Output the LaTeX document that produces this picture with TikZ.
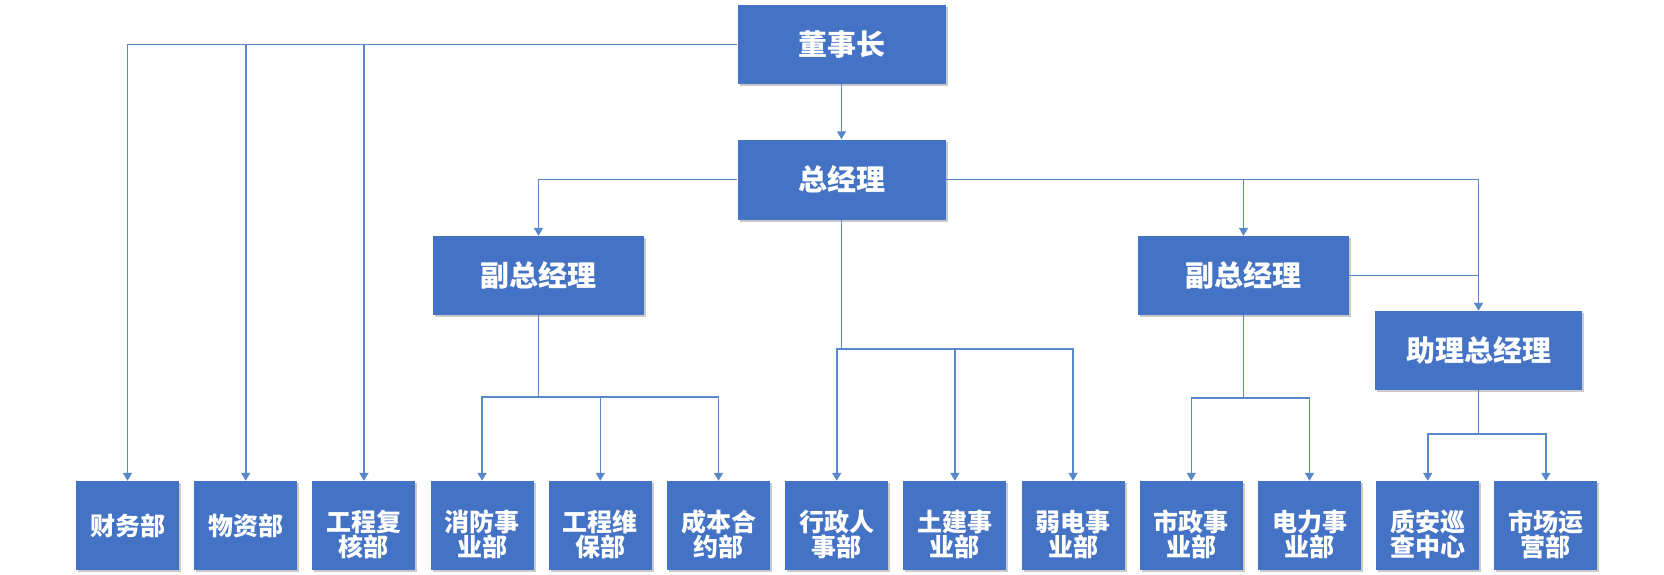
\documentclass[tikz,border=0pt]{standalone}
\usepackage{fontspec}
\newfontfamily\cjk{Noto Sans CJK SC}
\usetikzlibrary{arrows.meta,shadows}
\definecolor{boxblue}{HTML}{4472C4}
\definecolor{lineblue}{HTML}{5888CA}
\tikzset{
  box/.style={rectangle, fill=boxblue, text=white, font=\cjk\bfseries\fontsize{29}{32}\selectfont,
    inner sep=0pt, align=center,
    drop shadow={shadow xshift=2pt, shadow yshift=-2pt, opacity=0.35, fill=black!60}},
  topbox/.style={box, minimum width=208pt, minimum height=79pt},
  leaf/.style={box, minimum width=103pt, minimum height=89pt},
  leaftext/.style={text=white, inner sep=0pt, align=center, font=\cjk\bfseries\fontsize{25}{24.5}\selectfont},
  conn/.style={draw=lineblue, line width=1.6pt},
  arr/.style={conn, -{Triangle[width=9pt,length=8pt]}}
}
\begin{document}
\begin{tikzpicture}[x=1pt,y=-1pt]
\useasboundingbox (0,0) rectangle (1664,575);
\node[topbox] (dsz) at (841.5,44.5) {董事长};
\node[topbox, minimum height=80pt] (zjl) at (841.5,179.5) {总经理};
\node[topbox, minimum width=211pt] (fzL) at (538.5,275.5) {副总经理};
\node[topbox, minimum width=211pt] (fzR) at (1243.5,275.5) {副总经理};
\node[topbox, minimum width=207pt] (zl) at (1478.5,350.5) {助理总经理};
\foreach \i/\t/\dy in {0/财务部/0,1/物资部/0,2/工程复\\核部/9,3/消防事\\业部/9,4/工程维\\保部/9,5/成本合\\约部/9,6/行政人\\事部/9,7/土建事\\业部/9,8/弱电事\\业部/9,9/市政事\\业部/9,10/电力事\\业部/9,11/质安巡\\查中心/9,12/市场运\\营部/9}{
  \node[leaf] (b\i) at ({127.5+118.2*\i},525.5) {};
  \node[leaftext] (t\i) at ({127.5+118.2*\i},525.5+\dy) {\t};
}
% chairman
\draw[arr] (dsz.west) -| (b0.north);
\draw[arr] (dsz.west) -| (b1.north);
\draw[arr] (dsz.west) -| (b2.north);
\draw[arr] (dsz.south) -- (zjl.north);
% general manager
\draw[arr] (zjl.west) -| (fzL.north);
\draw[arr] (zjl.east) -| (fzR.north);
\draw[arr] (zjl.east) -| (zl.north);
\draw[conn] (fzR.east) -- (fzR.east -| zl.north);
\coordinate (busM) at (841.5,349);
\draw[arr] (zjl.south) -- (busM) -| (b6.north);
\draw[arr] (busM) -| (b7.north);
\draw[arr] (busM) -| (b8.north);
% left vice
\coordinate (busL) at (538.5,397);
\draw[arr] (fzL.south) -- (busL) -| (b3.north);
\draw[arr] (busL) -| (b4.north);
\draw[arr] (busL) -| (b5.north);
% right vice
\coordinate (busR) at (1243.5,398);
\draw[arr] (fzR.south) -- (busR) -| (b9.north);
\draw[arr] (busR) -| (b10.north);
% assistant
\coordinate (busA) at (1478.5,434);
\draw[arr] (zl.south) -- (busA) -| (b11.north);
\draw[arr] (busA) -| (b12.north);
\end{tikzpicture}
\end{document}
